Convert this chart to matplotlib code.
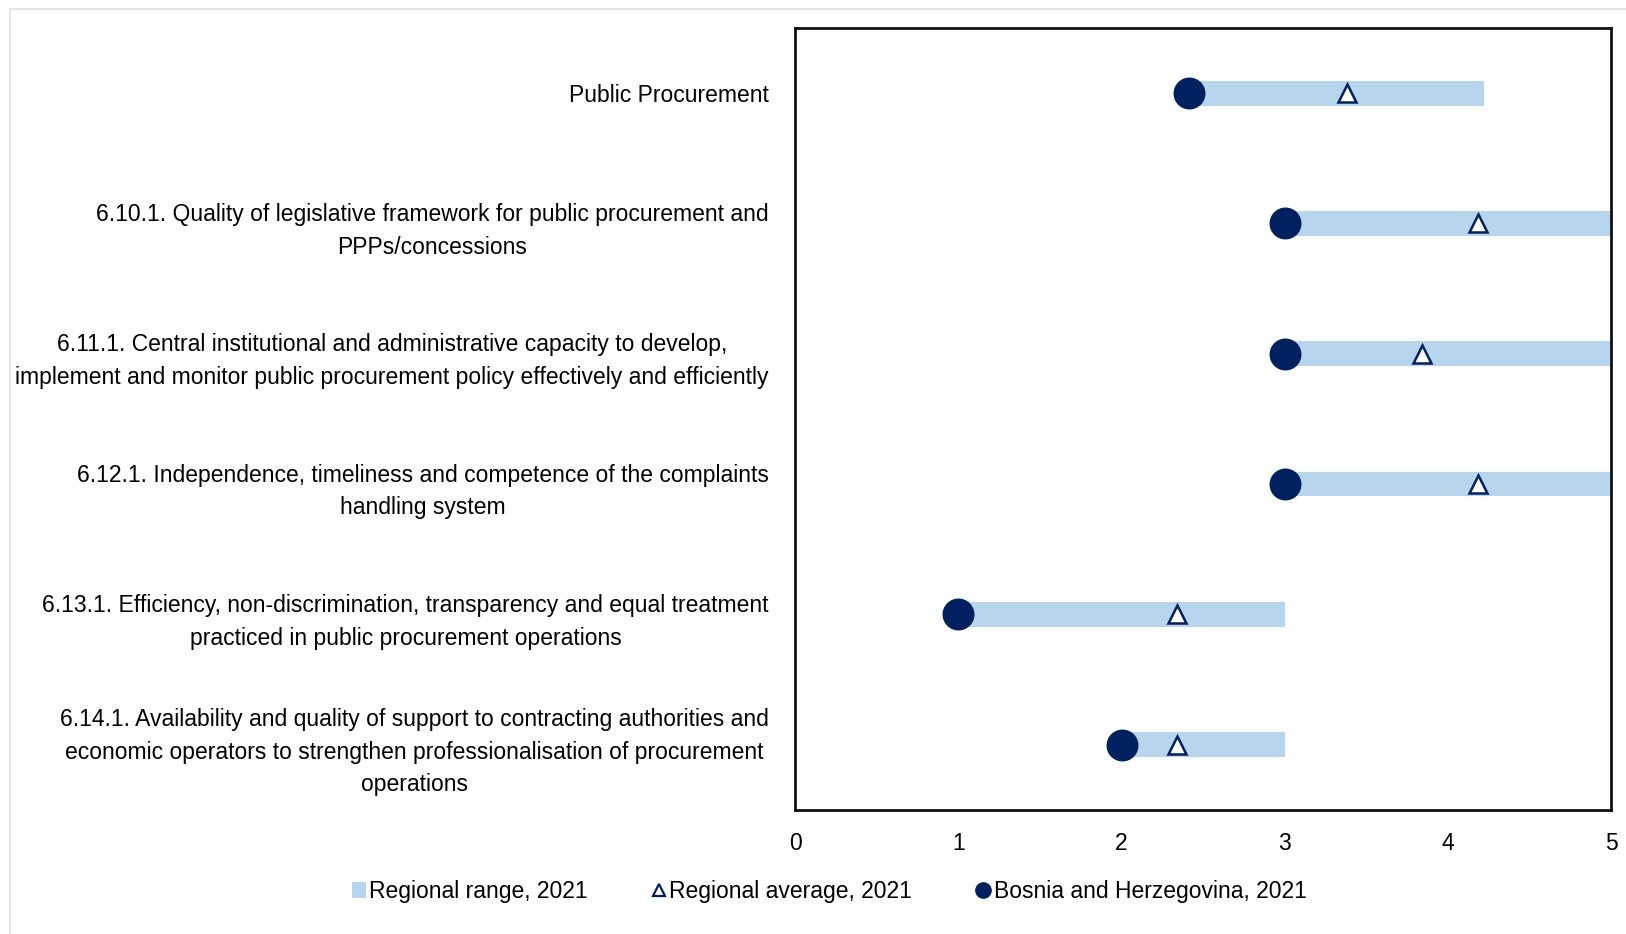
import numpy as np
import matplotlib
matplotlib.use("Agg")
import matplotlib.pyplot as plt
from matplotlib import font_manager
from matplotlib.lines import Line2D
from matplotlib.patches import Patch, Rectangle

# pick a narrow font if there is one
names = {f.name for f in font_manager.fontManager.ttflist}
font = "Liberation Sans Narrow" if "Liberation Sans Narrow" in names else "Liberation Sans"
plt.rcParams['font.family'] = [font, 'DejaVu Sans']

categories = [
    "Public Procurement",
    "6.10.1. Quality of legislative framework for public procurement and\nPPPs/concessions",
    "6.11.1. Central institutional and administrative capacity to develop,\nimplement and monitor public procurement policy effectively and efficiently",
    "6.12.1. Independence, timeliness and competence of the complaints\nhandling system",
    "6.13.1. Efficiency, non-discrimination, transparency and equal treatment\npracticed in public procurement operations",
    "6.14.1. Availability and quality of support to contracting authorities and\neconomic operators to strengthen professionalisation of procurement\noperations",
]
range_min = [2.41, 3.0, 3.0, 3.0, 1.0, 2.0]
range_max = [4.22, 5.0, 5.0, 5.0, 3.0, 3.0]
regional_avg = [3.38, 4.18, 3.84, 4.18, 2.34, 2.34]
bih = [2.41, 3.0, 3.0, 3.0, 1.0, 2.0]

bar_color = "#b8d5ee"
navy = "#002060"
fs = 16.5

fig = plt.figure(figsize=(16.26, 9.34), dpi=100)
ax = fig.add_axes([0.489, 0.133, 0.502, 0.837])

y = np.arange(len(categories))
ax.barh(y, np.array(range_max) - np.array(range_min), left=range_min,
        height=0.19, color=bar_color, zorder=1)
ax.plot(regional_avg, y, linestyle="none", marker="^", markersize=13,
        markerfacecolor="white", markeredgecolor=navy, markeredgewidth=1.8, zorder=3)
ax.plot(bih, y, linestyle="none", marker="o", markersize=22,
        color=navy, zorder=4)

ax.set_xlim(0, 5)
ax.set_ylim(len(categories) - 0.5, -0.5)
ax.set_xticks(range(6))
ax.set_yticks(y)
ax.set_yticklabels(categories, fontsize=fs)
for lbl in ax.get_yticklabels():
    lbl.set_multialignment("center")
    lbl.set_linespacing(1.55)
ax.tick_params(axis="both", length=0, labelsize=fs)
ax.tick_params(axis="y", pad=19)
ax.tick_params(axis="x", pad=16)
for s in ax.spines.values():
    s.set_linewidth(2)
    s.set_color("#111111")

handles = [
    Patch(facecolor=bar_color, edgecolor="none"),
    Line2D([], [], linestyle="none", marker="^", markersize=9,
           markerfacecolor="white", markeredgecolor=navy, markeredgewidth=1.6),
    Line2D([], [], linestyle="none", marker="o", markersize=11, color=navy),
]
fig.legend(handles, ["Regional range, 2021", "Regional average, 2021",
                     "Bosnia and Herzegovina, 2021"],
           loc="center", bbox_to_anchor=(0.51, 0.045), ncol=3, frameon=False,
           fontsize=fs, handlelength=0.6, handletextpad=0.15, columnspacing=2.8)

# faint frame around the picture
fig.patches.append(Rectangle((0.006, -0.01), 1.1, 1.0, transform=fig.transFigure,
                             fill=False, edgecolor="#e6e6e6", linewidth=1.5))

fig.savefig("out.png", dpi=100)
